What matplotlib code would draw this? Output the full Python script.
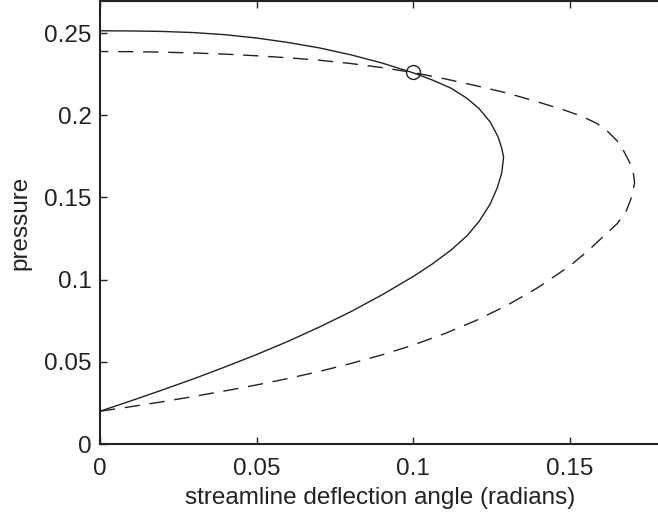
import matplotlib
matplotlib.use('Agg')
import matplotlib.pyplot as plt

plt.rcParams['font.family'] = ['Liberation Sans', 'DejaVu Sans']
plt.rcParams['lines.scale_dashes'] = False

# solid polar (deflection angle, pressure)
solid_x = [0.0, 0.01, 0.02, 0.03, 0.04, 0.05, 0.06, 0.07, 0.08, 0.09,
           0.10, 0.106, 0.112, 0.117, 0.121, 0.1245, 0.1268, 0.1282, 0.1288,
           0.1282, 0.1270, 0.1245, 0.121, 0.117, 0.112, 0.106, 0.100, 0.090,
           0.080, 0.070, 0.060, 0.050, 0.040, 0.030, 0.020, 0.010, 0.0]
solid_y = [0.020, 0.0264, 0.0330, 0.0398, 0.0470, 0.0545, 0.0625, 0.0712, 0.0805, 0.0908,
           0.1020, 0.1095, 0.1180, 0.1265, 0.1355, 0.1460, 0.1560, 0.1650, 0.1745,
           0.1800, 0.1870, 0.1960, 0.2040, 0.2105, 0.2165, 0.2215, 0.2258, 0.2318,
           0.2368, 0.2410, 0.2443, 0.2470, 0.2490, 0.2503, 0.2510, 0.2513, 0.2514]

# dashed polar
dash_x = [0.0, 0.01, 0.02, 0.03, 0.04, 0.05, 0.06, 0.07, 0.08, 0.09,
          0.10, 0.11, 0.12, 0.13, 0.14, 0.15, 0.156, 0.161, 0.165, 0.168,
          0.1698, 0.1706, 0.1702, 0.1692, 0.1672, 0.1650, 0.1620, 0.1586, 0.1540,
          0.1477, 0.1394, 0.130, 0.120, 0.110, 0.100, 0.090, 0.080, 0.070,
          0.060, 0.050, 0.040, 0.030, 0.020, 0.010, 0.0]
dash_y = [0.020, 0.0228, 0.0258, 0.0290, 0.0324, 0.0360, 0.0399, 0.0442, 0.0490, 0.0543,
          0.0603, 0.0672, 0.0752, 0.0845, 0.0955, 0.1085, 0.1180, 0.1270, 0.1340, 0.1420,
          0.1510, 0.1590, 0.1650, 0.1706, 0.1780, 0.1845, 0.1902, 0.1950, 0.1992,
          0.2035, 0.2083, 0.2135, 0.2180, 0.2222, 0.2260, 0.2290, 0.2315, 0.2335,
          0.2350, 0.2362, 0.2372, 0.2379, 0.2384, 0.2387, 0.2388]

# intersection marker
mark_x = [0.1]
mark_y = [0.2263]

fig = plt.figure(figsize=(6.58, 5.17), dpi=100)
ax = fig.add_axes([0.152, 0.141, 0.851, 0.857])

ax.plot(solid_x, solid_y, color='#222222', lw=1.0)
ax.plot(dash_x, dash_y, color='#222222', lw=1.0, linestyle=(0, (11, 7)))
ax.plot(mark_x, mark_y, 'o', mfc='none', mec='#222222', ms=10, mew=1.0)

ax.set_xlim(0, 0.1787)
ax.set_ylim(0, 0.2695)
ax.set_xticks([0, 0.05, 0.1, 0.15])
ax.set_xticklabels(['0', '0.05', '0.1', '0.15'])
ax.set_yticks([0, 0.05, 0.1, 0.15, 0.2, 0.25])
ax.set_yticklabels(['0', '0.05', '0.1', '0.15', '0.2', '0.25'])
ax.tick_params(direction='in', length=5, width=1, labelsize=17.5, colors='#222222',
               top=True, right=False)
ax.tick_params(axis='x', pad=10)
ax.tick_params(axis='y', pad=6)
for s in ax.spines.values():
    s.set_linewidth(1.5)
    s.set_color('#222222')
ax.spines['right'].set_visible(False)

ax.set_xlabel('streamline deflection angle (radians)', fontsize=17.5, color='#222222', labelpad=5)
ax.set_ylabel('pressure', fontsize=17.5, color='#222222', labelpad=9)

fig.savefig('out.png', dpi=100)
